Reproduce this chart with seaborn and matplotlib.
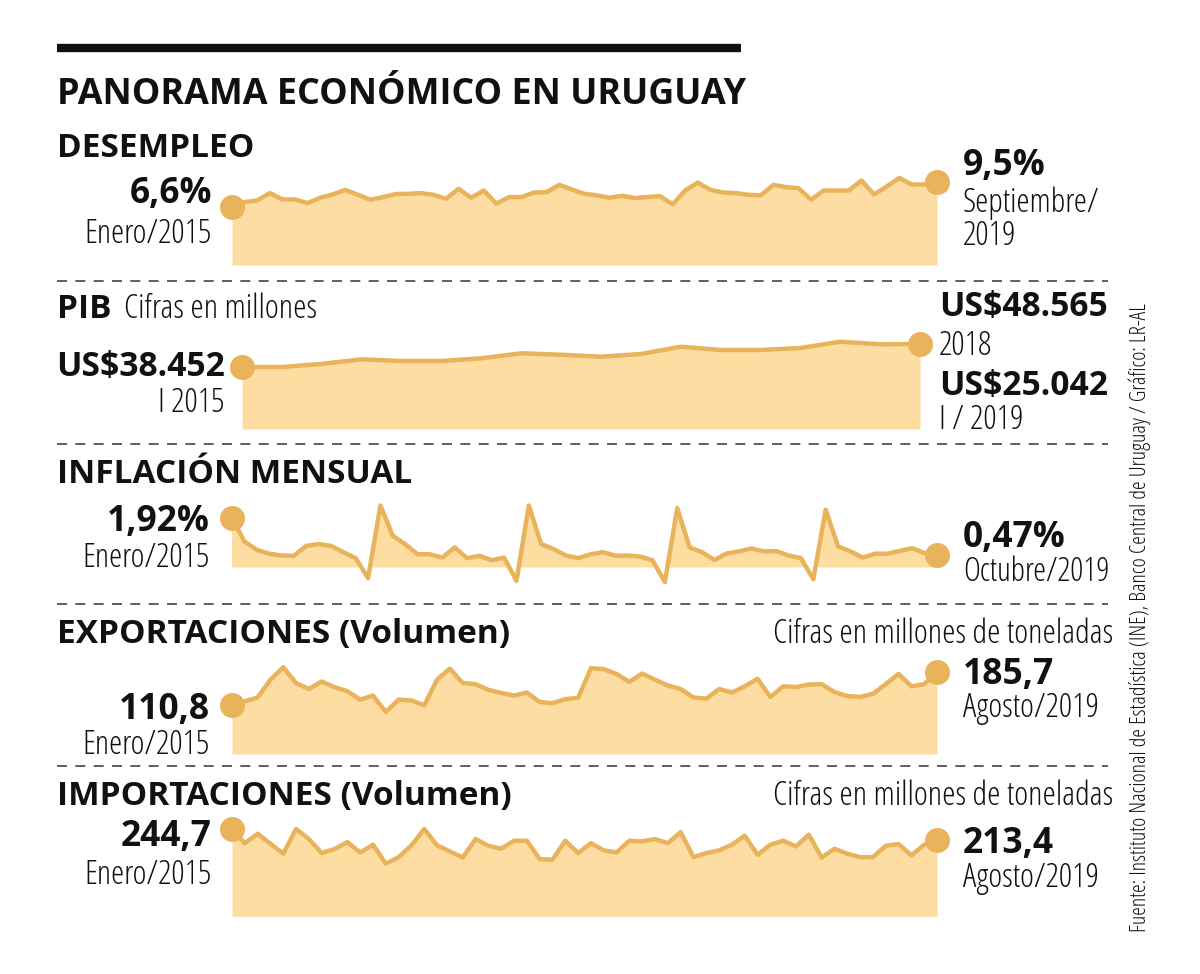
import numpy as np
import matplotlib
matplotlib.use("Agg")
import matplotlib.pyplot as plt
import seaborn as sns

# === Data ===
desempleo = [6.6, 7.16, 7.35, 8.18, 7.46, 7.46, 7.05, 7.65, 8.03, 8.55, 7.99, 7.43,
             7.73, 8.07, 8.10, 8.18, 7.99, 7.54, 8.67, 7.65, 8.48, 6.98, 7.73, 7.73,
             8.25, 8.29, 9.12, 8.59, 8.10, 7.92, 7.65, 7.88, 7.62, 7.73, 7.84, 6.90,
             8.48, 9.38, 8.55, 8.25, 8.18, 7.99, 7.92, 9.12, 8.86, 8.74, 7.43, 8.48,
             8.48, 8.48, 9.61, 8.03, 8.93, 9.91, 9.16, 9.16, 9.5]

pib = [38452, 38452, 40375, 43220, 42170, 42170, 43850, 46950, 46080,
       44840, 46515, 51040, 49000, 49000, 50235, 54140, 52530, 52720]

inflacion = [1.92, 1.00, 0.68, 0.53, 0.46, 0.45, 0.83, 0.90, 0.83, 0.59, 0.36, -0.41,
             2.38, 1.22, 0.90, 0.51, 0.51, 0.38, 0.77, 0.36, 0.45, 0.28, 0.38, -0.51,
             2.38, 0.90, 0.71, 0.46, 0.36, 0.51, 0.59, 0.45, 0.46, 0.42, 0.28, -0.56,
             2.28, 0.77, 0.59, 0.29, 0.54, 0.62, 0.73, 0.62, 0.63, 0.46, 0.36, -0.45,
             2.22, 0.81, 0.62, 0.38, 0.53, 0.53, 0.64, 0.74, 0.55, 0.47]

exportaciones = [110.8, 119, 128, 168, 196, 160.5, 147, 164, 151, 142, 123, 132,
                 95, 123, 121, 110, 168, 193, 160.5, 158, 145, 138, 132, 139,
                 117.6, 115, 124, 127, 194, 192, 181, 163, 182, 168, 155, 147,
                 128, 125, 147, 139, 153, 170, 129, 153, 151.5, 157, 158, 140,
                 131, 129, 136, 158, 181, 153, 158, 185.7]

importaciones = [244.7, 205, 231.5, 203.5, 175.5, 244.6, 216.6, 177.4, 188.6, 208, 179, 200.7,
                 147.5, 166, 199, 244.6, 199, 182, 165, 216.6, 198, 189.5, 212, 212,
                 160.6, 158.7, 212, 177.4, 205, 185, 179, 212, 210, 216.6, 205, 236,
                 166, 177.4, 185, 200.7, 226, 172.7, 200.7, 212, 196, 228.8, 165, 189.5,
                 175.5, 166, 166, 198, 202.6, 171, 200.7, 213.4]

# === Style
sns.set_style("white")
LINE = "#E8B35A"
FILL = "#FEDDA2"
INK = "#111111"
FAM = ["Open Sans", "DejaVu Sans"]

W, H = 1200, 974
fig = plt.figure(figsize=(W / 100, H / 100), dpi=100)
fig.patch.set_facecolor("white")


def add_panel(values, x0, x1, base, dot_y, below=4, above=12):
    # px per data unit from first point
    scale = (base - dot_y) / values[0]
    vals = np.array(values, dtype=float)
    top = base - vals.max() * scale - above
    bot = base + below if vals.min() >= 0 else base - vals.min() * scale + below
    ax = fig.add_axes([x0 / W, 1 - bot / H, (x1 - x0) / W, (bot - top) / H])
    x = np.arange(len(vals))
    ax.fill_between(x, vals, 0, where=vals >= 0, interpolate=True, color=FILL, lw=0)
    sns.lineplot(x=x, y=vals, ax=ax, color=LINE, lw=3.2, zorder=3)
    ax.plot([x[0], x[-1]], [vals[0], vals[-1]], "o", ms=17, color=LINE,
            clip_on=False, zorder=5)
    ax.set_xlim(0, len(vals) - 1)
    ax.set_ylim(-(bot - base) / scale, (base - top) / scale)
    ax.axis("off")
    return ax


add_panel(desempleo, 232, 937, 265, 207)
add_panel(pib, 242, 920, 429, 367)
add_panel(inflacion, 232, 937, 567.5, 517.5)
add_panel(exportaciones, 232, 937, 754, 705)
add_panel(importaciones, 232, 937, 916.5, 829)

# === Overlay for text, in pixel coords
ov = fig.add_axes([0, 0, 1, 1], zorder=10)
ov.set_xlim(0, W)
ov.set_ylim(H, 0)
ov.axis("off")
ov.patch.set_alpha(0)

ov.plot([57, 741], [48, 48], color=INK, lw=6, solid_capstyle="butt")
for y in [281, 444, 604, 766]:
    ov.plot([57, 1108], [y, y], color="#444444", lw=1.2, dashes=(6, 5))


def txt(x, y, s, size, kind="light", ha="left"):
    # kind: "head" = condensed bold, "light" = condensed light, "value" = bold
    weight = {"head": "bold", "light": "light", "value": "bold"}[kind]
    stretch = "normal" if kind == "value" else "condensed"
    ov.text(x, y, s, fontsize=size, fontweight=weight, fontstretch=stretch,
            family=FAM, ha=ha, va="baseline", color=INK)


txt(57, 104, "PANORAMA ECONÓMICO EN URUGUAY", 25.8, "head")

# section heads
txt(57, 157, "DESEMPLEO", 24, "head")
txt(57, 318, "PIB", 24, "head")
txt(124, 318, "Cifras en millones", 24.2)
txt(57, 483, "INFLACIÓN MENSUAL", 24, "head")
txt(57, 643, "EXPORTACIONES (Volumen)", 24, "head")
txt(1113, 643, "Cifras en millones de toneladas", 24.2, ha="right")
txt(57, 805, "IMPORTACIONES (Volumen)", 24, "head")
txt(1113, 805, "Cifras en millones de toneladas", 24.2, ha="right")

# start labels
txt(212, 203, "6,6%", 25.5, "value", ha="right")
txt(212, 243, "Enero/2015", 24, ha="right")
txt(225, 376, "US$38.452", 24.2, "value", ha="right")
txt(225, 412, "I 2015", 24, ha="right")
txt(210, 531, "1,92%", 25.5, "value", ha="right")
txt(210, 567, "Enero/2015", 24, ha="right")
txt(210, 719, "110,8", 25.5, "value", ha="right")
txt(210, 754, "Enero/2015", 24, ha="right")
txt(212, 846, "244,7", 25.5, "value", ha="right")
txt(212, 884, "Enero/2015", 24, ha="right")

# end labels
txt(963, 175, "9,5%", 25.5, "value")
txt(963, 212, "Septiembre/", 24)
txt(963, 245, "2019", 24)
txt(939, 316, "US$48.565", 24.2, "value")
txt(939, 355, "2018", 24)
txt(939, 395, "US$25.042", 24.2, "value")
txt(939, 429, "I / 2019", 24)
txt(963, 547, "0,47%", 25.5, "value")
txt(963, 581, "Octubre/2019", 23.5)
txt(963, 684, "185,7", 25.5, "value")
txt(963, 717, "Agosto/2019", 24)
txt(963, 853, "213,4", 25.5, "value")
txt(963, 887, "Agosto/2019", 24)

# source, vertical
ov.text(1140, 618, "Fuente: Instituto Nacional de Estadística (INE), Banco Central de Uruguay / Gráfico: LR-AL",
        fontsize=15.8, fontweight="light", fontstretch="condensed", family=FAM,
        rotation=90, ha="center", va="center", color=INK)

plt.savefig("out.png", dpi=100, facecolor="white")
